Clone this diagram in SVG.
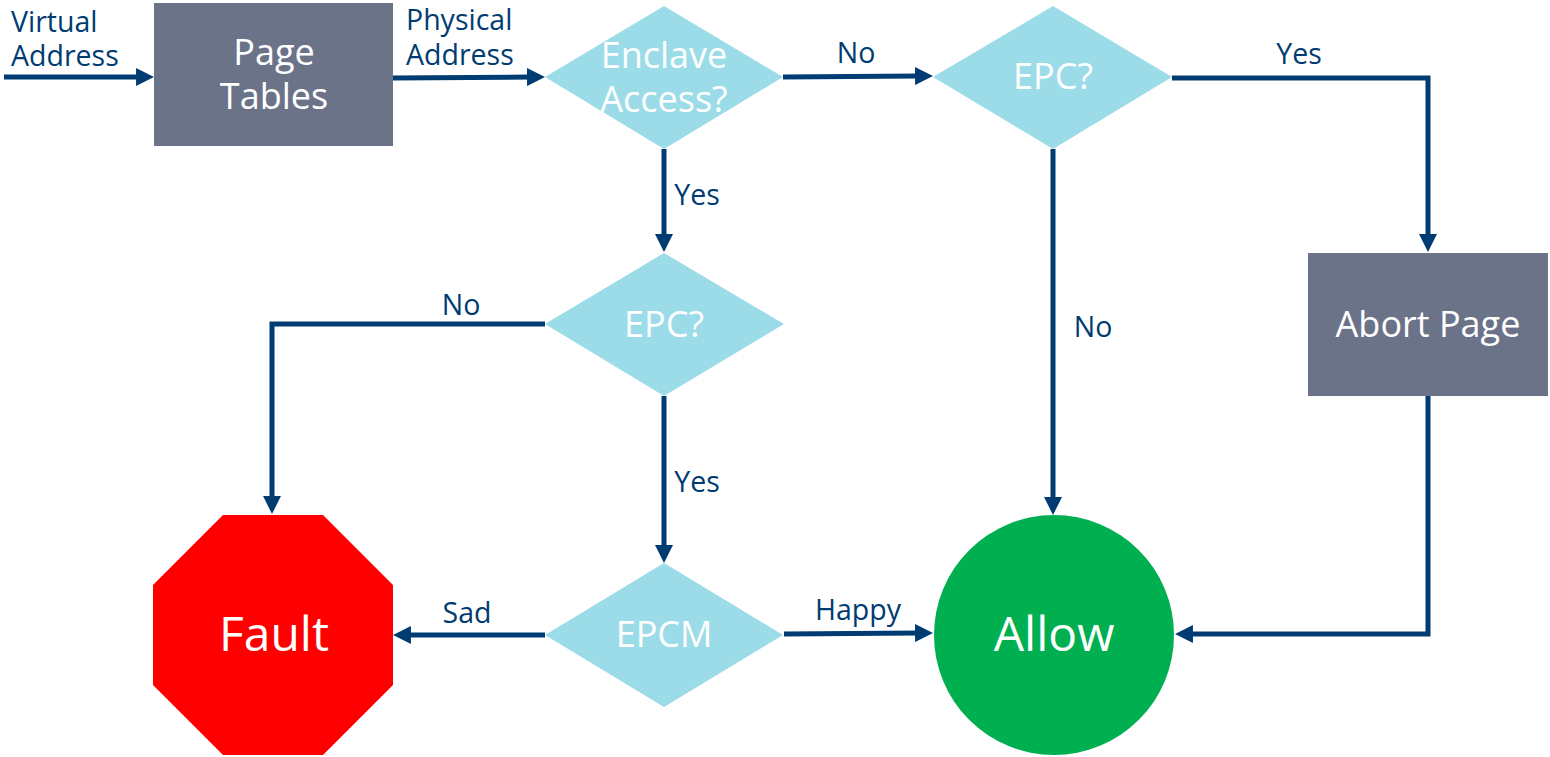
<svg xmlns="http://www.w3.org/2000/svg" width="1550" height="757" viewBox="0 0 1550 757">
  <defs>
    <marker id="arrow" viewBox="0 0 10 10" refX="2.2" refY="5" markerWidth="3.6" markerHeight="3.6" orient="auto" markerUnits="strokeWidth">
      <path d="M0,0 L10,5 L0,10 Z" fill="#003c71"/>
    </marker>
    <style>
      .conn { fill: none; stroke: #003c71; stroke-width: 5; stroke-linejoin: miter; marker-end: url(#arrow); }
      .lbl { font-family: "Open Sans", "Noto Sans", sans-serif; font-size: 28.5px; fill: #003c71; }
      .mid { text-anchor: middle; }
      .box { fill: #6b7389; }
      .dec { fill: #9bdce8; }
      .txt { font-family: "Open Sans", "Noto Sans", sans-serif; font-size: 36px; fill: #ffffff; text-anchor: middle; }
      .big { font-family: "Open Sans", "Noto Sans", sans-serif; font-size: 48px; fill: #ffffff; text-anchor: middle; }
    </style>
  </defs>

  <rect width="1550" height="757" fill="#ffffff"/>

  <!-- connectors -->
  <g id="connectors">
    <path class="conn" d="M4,77 L140,77"/>
    <path class="conn" d="M393,78 L531,77"/>
    <path class="conn" d="M783,77 L919,76"/>
    <path class="conn" d="M1172,78 L1428,78 L1428,238"/>
    <path class="conn" d="M1428,396 L1428,634 L1189,634"/>
    <path class="conn" d="M1053,149 L1053,501"/>
    <path class="conn" d="M664,149 L664,238"/>
    <path class="conn" d="M545,324 L272,324 L272,500"/>
    <path class="conn" d="M664,396 L664,549"/>
    <path class="conn" d="M545,635 L407,635"/>
    <path class="conn" d="M784,634 L919,633"/>

    <text class="lbl" x="11" y="32">Virtual</text>
    <text class="lbl" x="11" y="66">Address</text>
    <text class="lbl" x="406" y="30">Physical</text>
    <text class="lbl" x="406" y="65">Address</text>
    <text class="lbl mid" x="856" y="63">No</text>
    <text class="lbl mid" x="1299" y="64">Yes</text>
    <text class="lbl mid" x="697" y="205">Yes</text>
    <text class="lbl mid" x="1093" y="337">No</text>
    <text class="lbl mid" x="461" y="315">No</text>
    <text class="lbl mid" x="697" y="492">Yes</text>
    <text class="lbl mid" x="467" y="623">Sad</text>
    <text class="lbl mid" x="858" y="620">Happy</text>
  </g>

  <g id="page-tables">
    <rect class="box" x="154" y="3" width="239" height="143"/>
    <text class="txt" x="274" y="65">Page</text>
    <text class="txt" x="274" y="109">Tables</text>
  </g>

  <g id="enclave-access">
    <polygon class="dec" points="664,6 783,77 664,149 545,77"/>
    <text class="txt" x="664" y="68">Enclave</text>
    <text class="txt" x="664" y="112">Access?</text>
  </g>

  <g id="epc-outer">
    <polygon class="dec" points="1053,6 1172,77 1053,149 933,77"/>
    <text class="txt" x="1053" y="89">EPC?</text>
  </g>

  <g id="epc-inner">
    <polygon class="dec" points="664,253 784,324 664,396 545,324"/>
    <text class="txt" x="664" y="337">EPC?</text>
  </g>

  <g id="epcm">
    <polygon class="dec" points="664,563 783,635 664,707 545,635"/>
    <text class="txt" x="664" y="647">EPCM</text>
  </g>

  <g id="abort-page">
    <rect class="box" x="1308" y="253" width="240" height="143"/>
    <text class="txt" x="1428" y="337">Abort Page</text>
  </g>

  <g id="fault">
    <polygon points="223,515 323,515 393,585 393,685 323,755 223,755 153,685 153,585" fill="#ff0000"/>
    <text class="big" x="274" y="651">Fault</text>
  </g>

  <g id="allow">
    <circle cx="1054" cy="635" r="120" fill="#00b050"/>
    <text class="big" x="1054" y="651">Allow</text>
  </g>
</svg>
